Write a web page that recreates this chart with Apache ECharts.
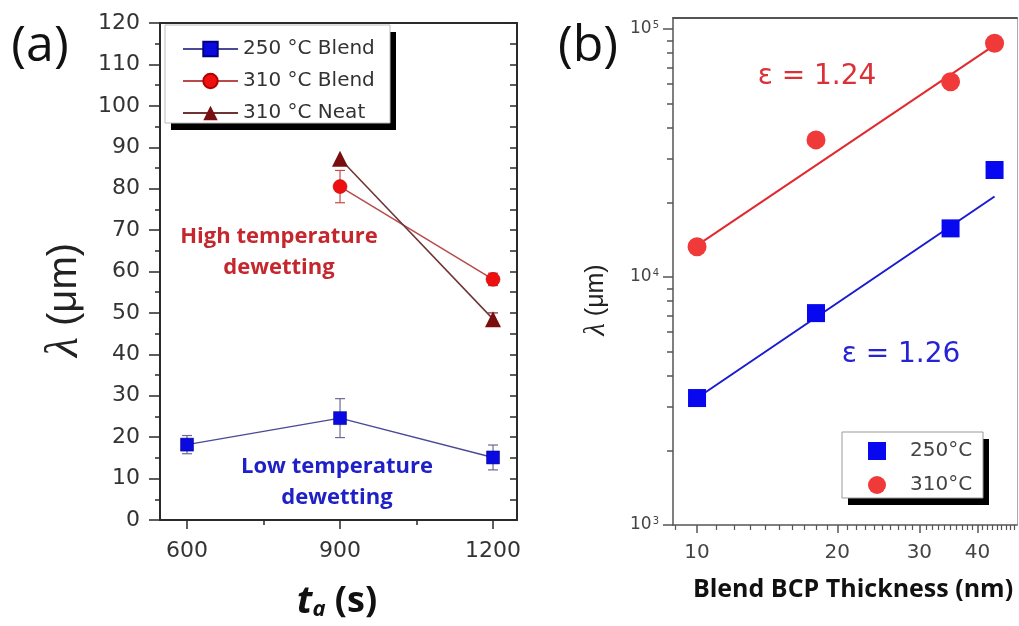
<!DOCTYPE html>
<html>
<head>
<meta charset="utf-8">
<script src="https://cdn.jsdelivr.net/npm/echarts@6/dist/echarts.min.js"></script>
<style>
  html, body { margin: 0; padding: 0; background: #fff; }
  #chart { width: 1019px; height: 626px; }
</style>
</head>
<body>
<div id="chart"></div>
<script>
// ---- Panel (a): dewetting wavelength vs. annealing time ----
const annealTimes = [600, 900, 1200];
const blend250 = [18.2, 24.6, 15.1];
const blend250Err = [2.2, 4.7, 3.0];
const hotTimes = [900, 1200];
const blend310 = [80.5, 58.1];
const blend310Err = [3.9, 1.5];
const neat310 = [87.2, 48.5];
const neat310Err = [0, 1.5];
const timeTicks = [600, 900, 1200];
const timeMinorTicks = [750, 1050];

// ---- Panel (b): wavelength vs. blend film thickness (log-log) ----
const thickness = [10, 18, 35, 43.5];
const lambda250 = [3250, 7150, 15700, 27000];
const lambda310 = [13250, 35700, 61300, 87500];
const fitThickness = [10, 43.5];
const fit250 = [3250, 21100];
const fit310 = [13400, 86000];
const thickTicks = [10, 20, 30, 40];
const thickMinorTicks = [9, 11, 12, 13, 14, 15, 16, 17, 18, 19, 21, 22, 23, 24, 25, 26, 27, 28, 29,
  31, 32, 33, 34, 35, 36, 37, 38, 39, 41, 42, 43, 44, 45, 46, 47, 48];
const lambdaTicks = [1000, 10000, 100000];
const lambdaMinorTicks = [2000, 3000, 4000, 5000, 6000, 7000, 8000, 9000,
  20000, 30000, 40000, 50000, 60000, 70000, 80000, 90000];

const TICK_FONT = 'DejaVu Sans';

function pairs(xs, ys) { return xs.map((x, i) => [x, ys[i]]); }

function errorBars(xs, ys, errs, color, xi, yi) {
  return {
    type: 'custom', xAxisIndex: xi, yAxisIndex: yi, z: 2, silent: true,
    data: xs.map((x, i) => [x, ys[i], errs[i]]),
    renderItem(params, api) {
      const x = api.value(0), y = api.value(1), e = api.value(2);
      if (!e) return null;
      const top = api.coord([x, y + e]);
      const bot = api.coord([x, y - e]);
      const w = 5;
      const st = { stroke: color, lineWidth: 1.2 };
      return {
        type: 'group', children: [
          { type: 'line', shape: { x1: top[0], y1: top[1], x2: bot[0], y2: bot[1] }, style: st },
          { type: 'line', shape: { x1: top[0] - w, y1: top[1], x2: top[0] + w, y2: top[1] }, style: st },
          { type: 'line', shape: { x1: bot[0] - w, y1: bot[1], x2: bot[0] + w, y2: bot[1] }, style: st }
        ]
      };
    }
  };
}

// framed legend box with a solid drop shadow
function legendFrame(x, y, w, h, border) {
  return [
    { type: 'rect', z: 1, silent: true, shape: { x: x + 6, y: y + 7, width: w, height: h }, style: { fill: '#000' } },
    { type: 'rect', z: 2, silent: true, shape: { x: x, y: y, width: w, height: h }, style: { fill: '#fff', stroke: border, lineWidth: 1 } }
  ];
}

const axisA = { color: '#2a2a2a', width: 2 };
const axisB = { color: '#555', width: 1.5 };
const tA = { min: 547, max: 1247 };
const yA = { min: 0, max: 120, interval: 10 };
const tB = { min: 8.88, max: 48.6 };
const yB = { min: 1000, max: 110700 };

const chart = echarts.init(document.getElementById('chart'), null, { renderer: 'canvas' });

const option = {
  backgroundColor: '#fff',
  animation: false,
  grid: [
    { left: 160, top: 23, width: 357, height: 497 },
    { left: 673, top: 18, width: 344, height: 507 }
  ],
  xAxis: [
    { // (a) bottom, major ticks + labels
      type: 'value', gridIndex: 0, position: 'bottom', ...tA,
      axisLine: { onZero: false, lineStyle: axisA },
      axisTick: { length: 9, lineStyle: { color: '#2a2a2a', width: 1.5 }, customValues: timeTicks },
      axisLabel: { customValues: timeTicks, formatter: v => String(v), margin: 20, fontFamily: TICK_FONT, fontSize: 22, color: '#333' },
      splitLine: { show: false }
    },
    { // (a) bottom, minor ticks
      type: 'value', gridIndex: 0, position: 'bottom', ...tA,
      axisLine: { show: false, onZero: false },
      axisTick: { length: 5, lineStyle: { color: '#2a2a2a', width: 1.5 }, customValues: timeMinorTicks },
      axisLabel: { show: false },
      splitLine: { show: false }
    },
    { // (a) top frame
      type: 'value', gridIndex: 0, position: 'top', ...tA,
      axisLine: { onZero: false, lineStyle: axisA },
      axisTick: { show: false }, axisLabel: { show: false }, splitLine: { show: false }
    },
    { // (b) bottom, major ticks + labels
      type: 'log', gridIndex: 1, position: 'bottom', ...tB,
      axisLine: { onZero: false, lineStyle: axisB },
      axisTick: { length: 8, lineStyle: { color: '#555', width: 1.5 }, customValues: thickTicks },
      axisLabel: { customValues: thickTicks, margin: 18, fontFamily: TICK_FONT, fontSize: 20, color: '#444' },
      splitLine: { show: false }
    },
    { // (b) bottom, minor ticks
      type: 'log', gridIndex: 1, position: 'bottom', ...tB,
      axisLine: { show: false, onZero: false },
      axisTick: { length: 5, lineStyle: { color: '#555', width: 1.2 }, customValues: thickMinorTicks },
      axisLabel: { show: false }, splitLine: { show: false }
    },
    { // (b) top frame
      type: 'log', gridIndex: 1, position: 'top', ...tB,
      axisLine: { onZero: false, lineStyle: { color: '#555', width: 2 } },
      axisTick: { show: false }, axisLabel: { show: false }, splitLine: { show: false }
    }
  ],
  yAxis: [
    { // (a) left
      type: 'value', gridIndex: 0, position: 'left', ...yA,
      axisLine: { onZero: false, lineStyle: axisA },
      axisTick: { length: 11, lineStyle: { color: '#2a2a2a', width: 1.5 } },
      minorTick: { show: true, splitNumber: 2, length: 5, lineStyle: { color: '#2a2a2a', width: 1.5 } },
      axisLabel: { margin: 20, fontFamily: TICK_FONT, fontSize: 22, color: '#333' },
      splitLine: { show: false }, minorSplitLine: { show: false }
    },
    { // (a) right frame, inward ticks
      type: 'value', gridIndex: 0, position: 'right', ...yA,
      axisLine: { onZero: false, lineStyle: axisA },
      axisTick: { inside: true, length: 7, lineStyle: { color: '#2a2a2a', width: 1.5 } },
      minorTick: { show: true, splitNumber: 2, length: 7, lineStyle: { color: '#2a2a2a', width: 1.5 } },
      axisLabel: { show: false },
      splitLine: { show: false }, minorSplitLine: { show: false }
    },
    { // (b) left, decades + labels
      type: 'log', gridIndex: 1, position: 'left', ...yB,
      axisLine: { onZero: false, lineStyle: axisB },
      axisTick: { length: 10, lineStyle: { color: '#555', width: 1.5 }, customValues: lambdaTicks },
      axisLabel: {
        customValues: lambdaTicks, margin: 14, fontFamily: TICK_FONT, fontSize: 17, color: '#444',
        formatter: v => '10{sup|' + Math.round(Math.log10(v)) + '}',
        rich: { sup: { fontFamily: TICK_FONT, fontSize: 10, color: '#444', verticalAlign: 'top', padding: [0, 0, 8, 1] } }
      },
      splitLine: { show: false }
    },
    { // (b) left, minor ticks
      type: 'log', gridIndex: 1, position: 'left', ...yB,
      axisLine: { show: false, onZero: false },
      axisTick: { length: 6, lineStyle: { color: '#555', width: 1.5 }, customValues: lambdaMinorTicks },
      axisLabel: { show: false }, splitLine: { show: false }
    },
    { // (b) right frame
      type: 'log', gridIndex: 1, position: 'right', ...yB,
      axisLine: { onZero: false, lineStyle: { color: '#aaa', width: 1 } },
      axisTick: { show: false }, axisLabel: { show: false }, splitLine: { show: false }
    }
  ],
  legend: [
    {
      left: 165, top: 25, orient: 'vertical', z: 10,
      padding: [14, 8, 1, 17], itemGap: 12, itemWidth: 55, itemHeight: 18,
      textStyle: { fontFamily: TICK_FONT, fontSize: 20, lineHeight: 20, color: '#333' },
      data: ['250 °C Blend', '310 °C Blend', '310 °C Neat']
    },
    {
      left: 842, top: 432, orient: 'vertical', z: 10,
      padding: [9, 8, 7, 26], itemGap: 14, itemWidth: 18, itemHeight: 18,
      textStyle: { fontFamily: TICK_FONT, fontSize: 20, color: '#444', padding: [0, 0, 0, 19] },
      data: ['250°C', '310°C']
    }
  ],
  series: [
    errorBars(annealTimes, blend250, blend250Err, '#6a6a96', 0, 0),
    errorBars(hotTimes, blend310, blend310Err, '#c84848', 0, 0),
    errorBars(hotTimes, neat310, neat310Err, '#7a2a2a', 0, 0),
    {
      name: '250 °C Blend', type: 'line', xAxisIndex: 0, yAxisIndex: 0, z: 3,
      data: pairs(annealTimes, blend250),
      symbol: 'rect', symbolSize: 13,
      lineStyle: { color: '#4a4a96', width: 1.5 },
      itemStyle: { color: '#0a0ae0', borderColor: '#000080', borderWidth: 0.5 }
    },
    {
      name: '310 °C Blend', type: 'line', xAxisIndex: 0, yAxisIndex: 0, z: 3,
      data: pairs(hotTimes, blend310),
      symbol: 'circle', symbolSize: 14,
      lineStyle: { color: '#b84a4a', width: 1.5 },
      itemStyle: { color: '#ee1010', borderColor: '#b00000', borderWidth: 0.5 }
    },
    {
      name: '310 °C Neat', type: 'line', xAxisIndex: 0, yAxisIndex: 0, z: 3,
      data: pairs(hotTimes, neat310),
      symbol: 'triangle', symbolSize: 16,
      lineStyle: { color: '#6e3434', width: 1.5 },
      itemStyle: { color: '#7a0d0d' }
    },
    {
      name: 'fit310', type: 'line', xAxisIndex: 3, yAxisIndex: 2, z: 2,
      data: pairs(fitThickness, fit310), symbol: 'none',
      lineStyle: { color: '#e02a30', width: 2 }
    },
    {
      name: 'fit250', type: 'line', xAxisIndex: 3, yAxisIndex: 2, z: 2,
      data: pairs(fitThickness, fit250), symbol: 'none',
      lineStyle: { color: '#1a1ad0', width: 2 }
    },
    {
      name: '250°C', type: 'scatter', xAxisIndex: 3, yAxisIndex: 2, z: 3,
      data: pairs(thickness, lambda250),
      symbol: 'rect', symbolSize: 18,
      itemStyle: { color: '#0808f0', opacity: 1 }
    },
    {
      name: '310°C', type: 'scatter', xAxisIndex: 3, yAxisIndex: 2, z: 3,
      data: pairs(thickness, lambda310),
      symbol: 'circle', symbolSize: 19,
      itemStyle: { color: '#f03a3a', opacity: 1 }
    }
  ],
  graphic: [
    ...legendFrame(165, 25, 225, 98, '#bbb'),
    ...legendFrame(842, 432, 141, 66, '#999'),
    { type: 'text', x: 40, y: 47, style: { text: '(a)', fontFamily: 'Open Sans', fontSize: 50, fill: '#111', align: 'center', verticalAlign: 'middle' } },
    { type: 'text', x: 588, y: 47, style: { text: '(b)', fontFamily: 'Open Sans', fontSize: 50, fill: '#111', align: 'center', verticalAlign: 'middle' } },
    {
      type: 'text', x: 279, y: 252,
      style: { text: 'High temperature\ndewetting', fontFamily: 'Open Sans', fontWeight: 'bold', fontSize: 22, lineHeight: 31, fill: '#c4282e', align: 'center', verticalAlign: 'middle' }
    },
    {
      type: 'text', x: 337, y: 482,
      style: { text: 'Low temperature\ndewetting', fontFamily: 'Open Sans', fontWeight: 'bold', fontSize: 22, lineHeight: 31, fill: '#2020c8', align: 'center', verticalAlign: 'middle' }
    },
    {
      type: 'text', x: 817, y: 77,
      style: { text: 'ε = 1.24', fontFamily: TICK_FONT, fontSize: 28, fill: '#dc3038', align: 'center', verticalAlign: 'middle' }
    },
    {
      type: 'text', x: 901, y: 355,
      style: { text: 'ε = 1.26', fontFamily: TICK_FONT, fontSize: 28, fill: '#2424d4', align: 'center', verticalAlign: 'middle' }
    },
    {
      type: 'text', x: 65, y: 300, rotation: Math.PI / 2,
      style: {
        text: '{l|λ} (μm)', fontFamily: 'Liberation Sans', fontSize: 40, fill: '#222', align: 'center', verticalAlign: 'middle',
        rich: { l: { fontFamily: 'Liberation Serif', fontStyle: 'italic', fontSize: 46, fill: '#222' } }
      }
    },
    {
      type: 'text', x: 337, y: 602,
      style: {
        text: '{t|t}{s|a} (s)', fontFamily: 'Open Sans', fontWeight: 'bold', fontSize: 36, fill: '#111', align: 'center', verticalAlign: 'middle',
        rich: {
          t: { fontFamily: 'Open Sans', fontWeight: 'bold', fontStyle: 'italic', fontSize: 38, fill: '#111' },
          s: { fontFamily: 'Open Sans', fontStyle: 'italic', fontWeight: 'bold', fontSize: 22, fill: '#111', verticalAlign: 'bottom', padding: [16, 0, 0, 0] }
        }
      }
    },
    {
      type: 'text', x: 596, y: 300, rotation: Math.PI / 2,
      style: {
        text: '{l|λ} (μm)', fontFamily: 'Liberation Sans', fontSize: 25, fill: '#222', align: 'center', verticalAlign: 'middle',
        rich: { l: { fontFamily: 'Liberation Serif', fontStyle: 'italic', fontSize: 29, fill: '#222' } }
      }
    },
    {
      type: 'text', x: 853, y: 590,
      style: { text: 'Blend BCP Thickness (nm)', fontFamily: 'Open Sans', fontWeight: 'bold', fontSize: 25, fill: '#111', align: 'center', verticalAlign: 'middle' }
    }
  ]
};

chart.setOption(option);
</script>
</body>
</html>
